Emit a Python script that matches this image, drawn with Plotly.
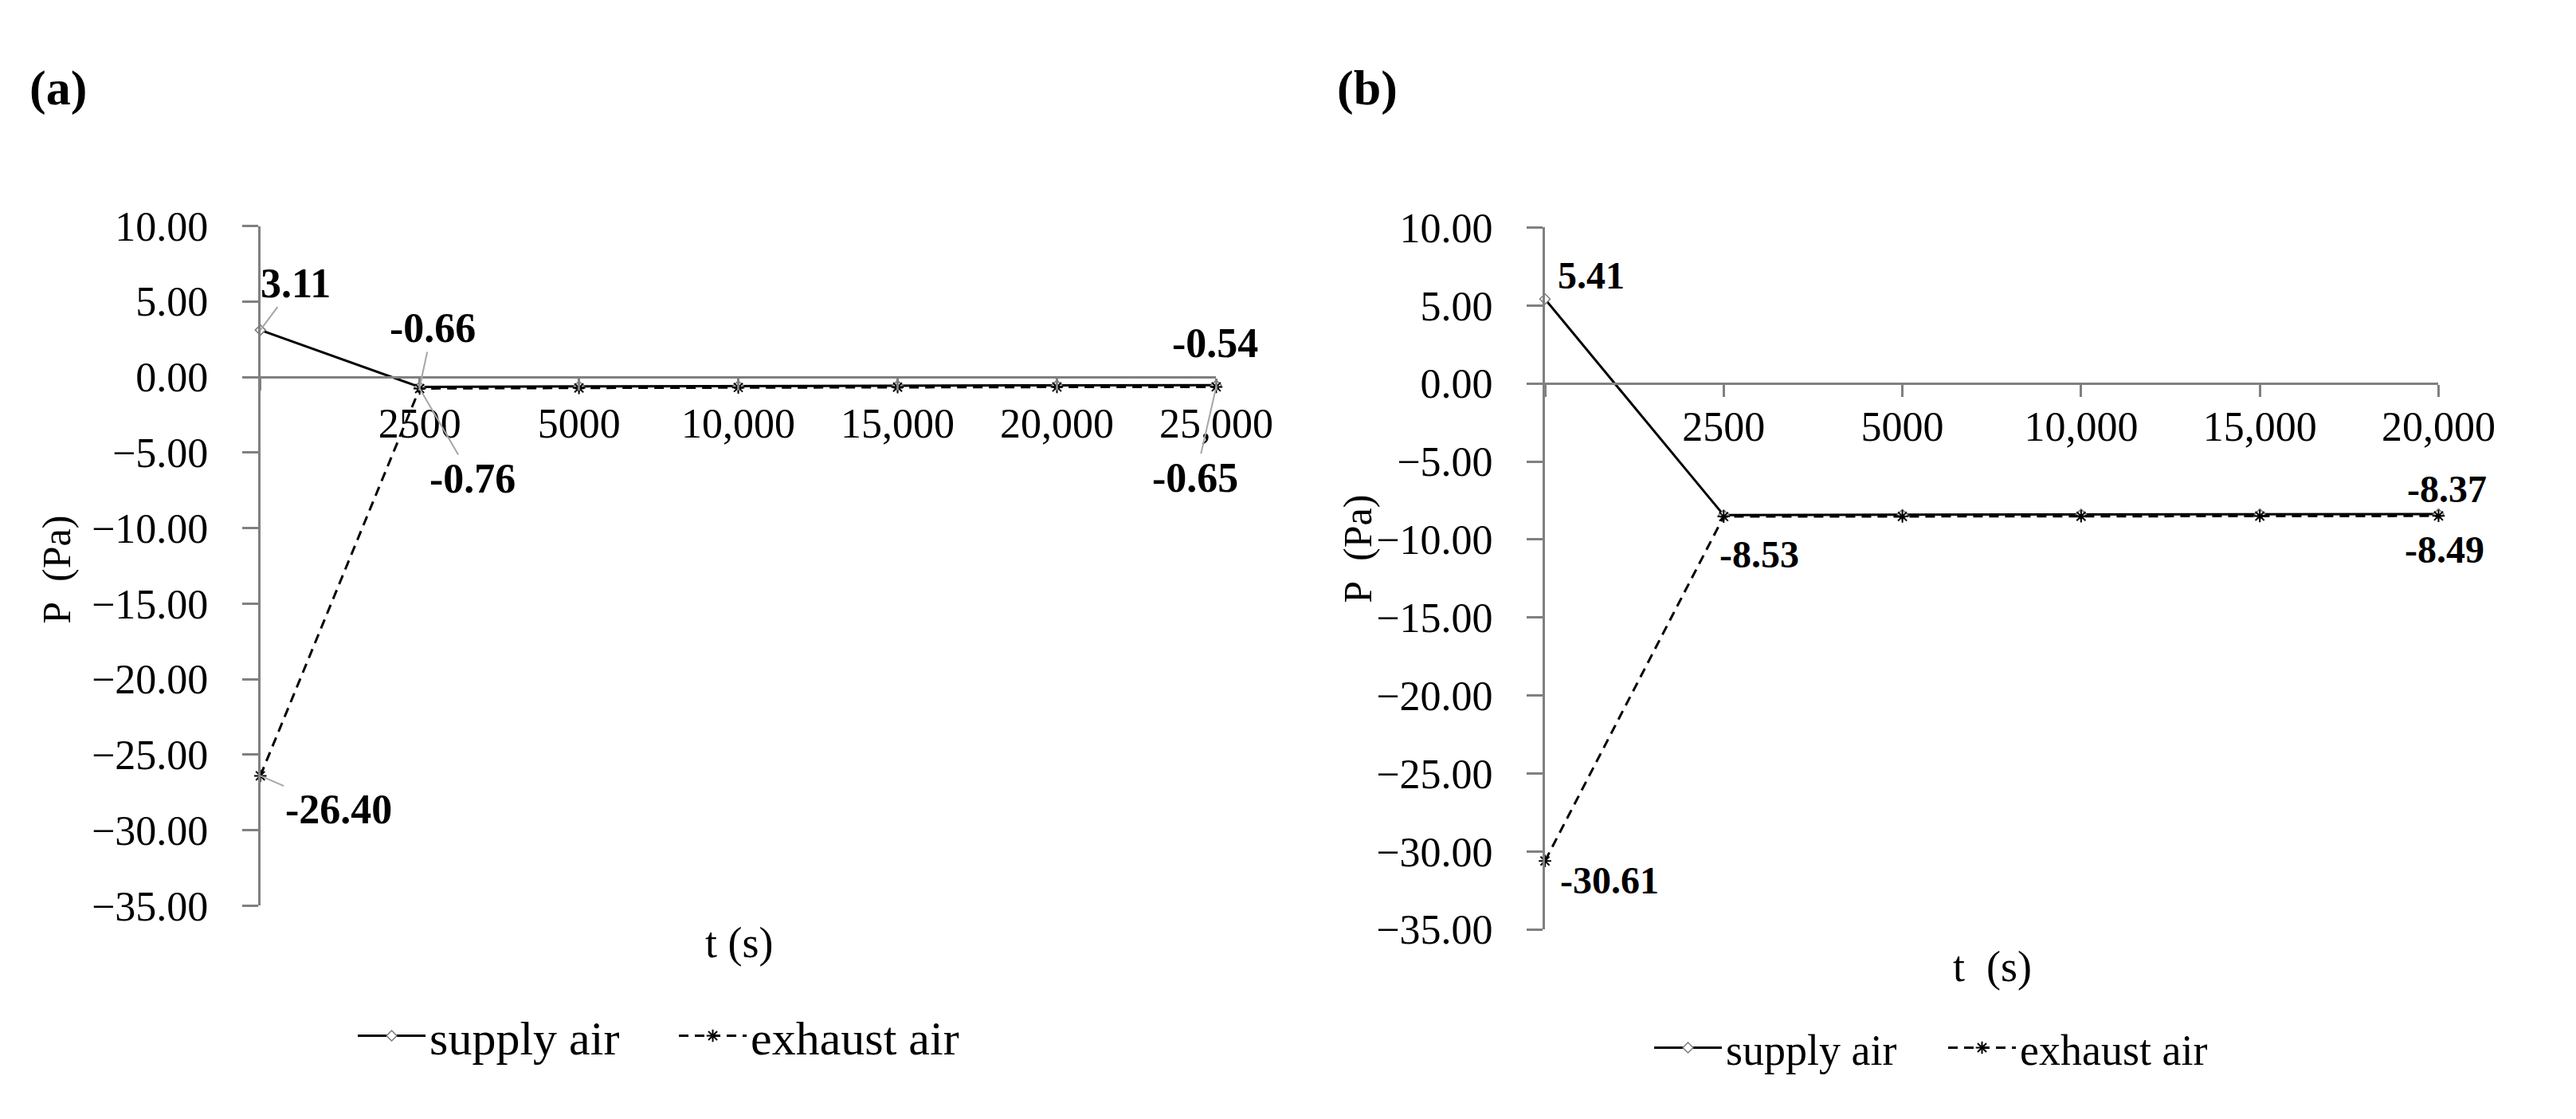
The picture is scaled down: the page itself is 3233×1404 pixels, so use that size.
import plotly.graph_objects as go

# panel (a)
t_a = [0, 2500, 5000, 10000, 15000, 20000, 25000]
t_a_labels = ["", "2500", "5000", "10,000", "15,000", "20,000", "25,000"]
supply_a = [3.11, -0.66, -0.62, -0.59, -0.57, -0.55, -0.54]
exhaust_a = [-26.40, -0.76, -0.72, -0.69, -0.67, -0.66, -0.65]

# panel (b)
t_b = [0, 2500, 5000, 10000, 15000, 20000]
t_b_labels = ["", "2500", "5000", "10,000", "15,000", "20,000"]
supply_b = [5.41, -8.44, -8.41, -8.39, -8.38, -8.37]
exhaust_b = [-30.61, -8.53, -8.52, -8.51, -8.50, -8.49]

y_ticks = [10, 5, 0, -5, -10, -15, -20, -25, -30, -35]
y_min, y_max = -35, 10

W, H = 3233, 1404
GRAY = "#808080"
FONT = "Liberation Serif"

# category positions (Excel style category axis)
pos_a = list(range(len(t_a)))
pos_b = list(range(len(t_b)))

dom_ax = [326 / W, 1553 / W]
dom_ay = [1 - 1147 / H, 1 - 258 / H]
dom_bx = [1975 / W, 3122 / W]
dom_by = [1 - 1178 / H, 1 - 260 / H]


def zero_pos(dom):
    return dom[0] + (0 - y_min) / (y_max - y_min) * (dom[1] - dom[0])


fig = go.Figure()


def add_pair(x, sup, exh, xa, ya, leg):
    fig.add_trace(go.Scatter(
        x=x, y=sup, mode="lines+markers", name="supply air",
        line=dict(color="black", width=3),
        marker=dict(symbol="diamond", size=10, color="white",
                    line=dict(color="#7a7a7a", width=1.5)),
        xaxis=xa, yaxis=ya, legend=leg, cliponaxis=False))
    fig.add_trace(go.Scatter(
        x=x, y=exh, mode="lines+markers", name="exhaust air",
        line=dict(color="black", width=3, dash="12px,8px"),
        marker=dict(symbol="asterisk-open", size=13,
                    line=dict(color="#8a8a8a", width=2)),
        xaxis=xa, yaxis=ya, legend=leg, cliponaxis=False))


add_pair(pos_a, supply_a, exhaust_a, "x", "y", "legend")
add_pair(pos_b, supply_b, exhaust_b, "x2", "y2", "legend2")


def xaxis_cfg(dom, ydom, pos, labels, standoff):
    return dict(domain=dom, range=[0, len(pos) - 1], anchor="free",
                position=zero_pos(ydom), showline=True, linecolor=GRAY,
                linewidth=3, ticks="outside", ticklen=15, tickwidth=3,
                tickcolor=GRAY, tickmode="array", tickvals=pos,
                ticktext=labels, tickfont=dict(size=52, color="black"),
                ticklabelstandoff=standoff, showgrid=False, zeroline=False,
                fixedrange=True)


def yaxis_cfg(dom, anchor):
    return dict(domain=dom, range=[y_min, y_max], anchor=anchor,
                showline=True, linecolor=GRAY, linewidth=3,
                ticks="outside", ticklen=20, tickwidth=3, tickcolor=GRAY,
                tickmode="array", tickvals=y_ticks, tickformat=".2f",
                tickfont=dict(size=52, color="black"),
                ticklabelstandoff=32, showgrid=False, zeroline=False,
                fixedrange=True)


annotations = []


def data_label(xa, ya, x, y, ax, ay, size, leader):
    annotations.append(dict(
        x=x, y=y, xref=xa, yref=ya, text="<b>%.2f</b>" % y,
        showarrow=True, arrowhead=0, arrowwidth=2, standoff=0,
        arrowcolor="#a6a6a6" if leader else "rgba(0,0,0,0)",
        ax=ax, ay=ay, font=dict(size=size, color="black")))


# panel (a) data labels
data_label("x", "y", pos_a[0], supply_a[0], 44, -59, 52, True)
data_label("x", "y", pos_a[1], supply_a[1], 16, -74, 52, True)
data_label("x", "y", pos_a[1], exhaust_a[1], 66, 113, 52, True)
data_label("x", "y", pos_a[-1], supply_a[-1], -1, -53, 52, False)
data_label("x", "y", pos_a[-1], exhaust_a[-1], -26, 114, 52, True)
data_label("x", "y", pos_a[0], exhaust_a[0], 98, 42, 52, True)

# panel (b) data labels
data_label("x2", "y2", pos_b[0], supply_b[0], 58, -30, 48, False)
data_label("x2", "y2", pos_b[0], exhaust_b[0], 81, 24, 48, False)
data_label("x2", "y2", pos_b[1], exhaust_b[1], 45, 47, 48, False)
data_label("x2", "y2", pos_b[-1], supply_b[-1], 11, -31, 48, False)
data_label("x2", "y2", pos_b[-1], exhaust_b[-1], 8, 42, 48, False)


def paper_text(text, px, py, size, angle=0, xanchor="center"):
    annotations.append(dict(
        text=text, x=px / W, y=1 - py / H, xref="paper", yref="paper",
        showarrow=False, textangle=angle, xanchor=xanchor, yanchor="middle",
        font=dict(size=size, color="black")))


paper_text("<b>(a)</b>", 28, 78, 62, xanchor="left")
paper_text("<b>(b)</b>", 1706, 78, 62, xanchor="left")
paper_text("P\u00a0 (Pa)", 65, 708, 50, angle=-90)
paper_text("P\u00a0 (Pa)", 1735, 680, 50, angle=-90)
paper_text("t (s)", 940, 1196, 54)
paper_text("t\u00a0 (s)", 2549, 1227, 54)

fig.update_layout(
    width=W, height=H,
    margin=dict(l=0, r=0, t=0, b=0),
    paper_bgcolor="white", plot_bgcolor="white",
    font=dict(family=FONT, color="black"),
    xaxis=xaxis_cfg(dom_ax, dom_ay, pos_a, t_a_labels, -3),
    yaxis=yaxis_cfg(dom_ay, "x"),
    xaxis2=xaxis_cfg(dom_bx, dom_by, pos_b, t_b_labels, -8),
    yaxis2=yaxis_cfg(dom_by, "x2"),
    legend=dict(orientation="h", x=446 / W, xanchor="left",
                y=1 - 1317 / H, yanchor="middle", font=dict(size=60),
                itemwidth=85, entrywidth=303, entrywidthmode="pixels",
                bgcolor="rgba(0,0,0,0)"),
    legend2=dict(orientation="h", x=2110 / W, xanchor="left",
                 y=1 - 1333 / H, yanchor="middle", font=dict(size=54),
                 itemwidth=85, entrywidth=269, entrywidthmode="pixels",
                 bgcolor="rgba(0,0,0,0)"),
    annotations=annotations,
    showlegend=True,
)

fig.write_html("out.html")
